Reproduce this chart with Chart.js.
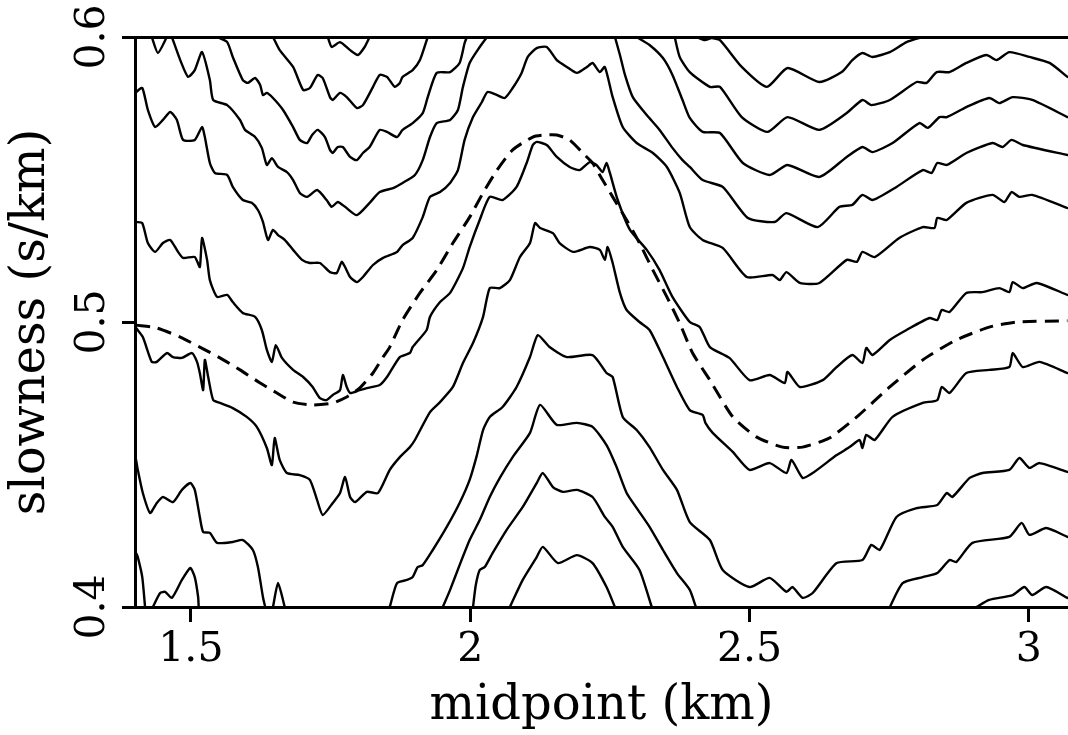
<!DOCTYPE html>
<html>
<head>
<meta charset="utf-8">
<title>slowness vs midpoint</title>
<script src="https://cdn.jsdelivr.net/npm/chart.js@4.4.1/dist/chart.umd.min.js"></script>
<style>
  html, body { margin: 0; padding: 0; background: #fff; }
  #chart { display: block; }
</style>
</head>
<body>
<canvas id="chart" width="1068" height="735"></canvas>
<script>
// Contour picks, [midpoint km, slowness s/km]

const xTicks = [1.5, 2, 2.5, 3];
const yTicks = [0.4, 0.5, 0.6];

// short dip at the top left
const topDip = [[1.430,0.6000],[1.441,0.5944],[1.457,0.6000]];

const upper1 = [[1.745,0.6000],[1.752,0.5965],[1.767,0.5982],[1.785,0.5954],[1.799,0.5937],[1.811,0.5965],[1.820,0.6000]];

const upper2 = [[1.647,0.6000],[1.659,0.5954],[1.683,0.5895],[1.701,0.5814],[1.713,0.5821],[1.727,0.5867],[1.736,0.5856],
  [1.749,0.5789],[1.754,0.5779],[1.767,0.5804],[1.779,0.5789],[1.797,0.5751],[1.808,0.5761],[1.826,0.5825],[1.838,0.5867],
  [1.851,0.5860],[1.865,0.5825],[1.874,0.5839],[1.879,0.5860],[1.897,0.5884],[1.910,0.5919],[1.924,0.6000]];

const upper3 = [[1.547,0.6000],[1.565,0.5982],[1.575,0.5930],[1.593,0.5849],[1.602,0.5839],[1.615,0.5856],[1.624,0.5832],
  [1.629,0.5796],[1.636,0.5804],[1.647,0.5786],[1.665,0.5744],[1.683,0.5684],[1.695,0.5639],[1.708,0.5628],[1.717,0.5656],
  [1.727,0.5674],[1.740,0.5649],[1.749,0.5604],[1.754,0.5593],[1.763,0.5614],[1.772,0.5614],[1.785,0.5579],[1.797,0.5568],
  [1.808,0.5593],[1.820,0.5614],[1.838,0.5674],[1.851,0.5667],[1.869,0.5649],[1.879,0.5674],[1.897,0.5698],[1.915,0.5733],
  [1.924,0.5789],[1.940,0.5874],[1.964,0.5877],[1.981,0.5909],[1.990,0.5979],[1.994,0.6000]];

const upper4 = [[1.466,0.6000],[1.481,0.5919],[1.495,0.5860],[1.507,0.5884],[1.520,0.5947],[1.534,0.5849],[1.540,0.5779],
  [1.565,0.5761],[1.588,0.5709],[1.597,0.5674],[1.615,0.5649],[1.627,0.5611],[1.636,0.5551],[1.645,0.5575],[1.656,0.5544],
  [1.672,0.5526],[1.683,0.5498],[1.695,0.5453],[1.708,0.5439],[1.726,0.5463],[1.743,0.5428],[1.752,0.5404],[1.763,0.5421],
  [1.776,0.5404],[1.797,0.5375],[1.820,0.5418],[1.838,0.5456],[1.862,0.5470],[1.879,0.5488],[1.901,0.5516],[1.915,0.5568],
  [1.928,0.5649],[1.940,0.5698],[1.964,0.5709],[1.978,0.5744],[1.987,0.5825],[1.999,0.5909],[2.017,0.5965],[2.030,0.6000]];

// long contour: left edge 0.58, over the top peak, out at the right edge
const across1 = [[1.402,0.5807],[1.413,0.5821],[1.423,0.5744],[1.436,0.5684],[1.450,0.5709],[1.463,0.5737],[1.475,0.5709],
  [1.486,0.5639],[1.507,0.5639],[1.520,0.5684],[1.525,0.5649],[1.534,0.5558],[1.543,0.5523],[1.565,0.5516],[1.575,0.5474],
  [1.593,0.5428],[1.609,0.5418],[1.620,0.5393],[1.629,0.5351],[1.638,0.5288],[1.647,0.5323],[1.656,0.5305],[1.668,0.5288],
  [1.683,0.5253],[1.699,0.5218],[1.713,0.5207],[1.731,0.5207],[1.749,0.5175],[1.761,0.5172],[1.770,0.5211],[1.776,0.5193],
  [1.785,0.5158],[1.797,0.5140],[1.808,0.5158],[1.826,0.5200],[1.844,0.5225],[1.869,0.5246],[1.879,0.5270],[1.897,0.5295],
  [1.915,0.5368],[1.928,0.5439],[1.946,0.5456],[1.964,0.5488],[1.978,0.5533],[1.990,0.5639],[2.005,0.5719],[2.021,0.5772],
  [2.031,0.5807],[2.048,0.5796],[2.062,0.5786],[2.076,0.5821],[2.092,0.5874],[2.103,0.5930],[2.119,0.5961],[2.137,0.5965],
  [2.155,0.5919],[2.173,0.5895],[2.191,0.5874],[2.209,0.5895],[2.219,0.5909],[2.232,0.5877],[2.241,0.5895],[2.255,0.5789],
  [2.273,0.5684],[2.298,0.5628],[2.327,0.5593],[2.352,0.5544],[2.375,0.5453],[2.393,0.5333],[2.416,0.5288],[2.452,0.5260],
  [2.495,0.5158],[2.541,0.5165],[2.554,0.5147],[2.566,0.5175],[2.590,0.5137],[2.625,0.5137],[2.674,0.5218],[2.692,0.5211],
  [2.702,0.5246],[2.724,0.5228],[2.768,0.5295],[2.810,0.5333],[2.831,0.5330],[2.836,0.5365],[2.853,0.5358],[2.888,0.5418],
  [2.935,0.5446],[2.956,0.5421],[2.969,0.5456],[2.983,0.5439],[3.006,0.5446],[3.069,0.5400]];

const across2 = [[1.402,0.5351],[1.413,0.5347],[1.423,0.5277],[1.436,0.5246],[1.450,0.5277],[1.463,0.5288],[1.477,0.5246],
  [1.486,0.5225],[1.507,0.5228],[1.516,0.5193],[1.520,0.5295],[1.529,0.5218],[1.534,0.5147],[1.547,0.5088],[1.565,0.5095],
  [1.575,0.5070],[1.593,0.5032],[1.615,0.5018],[1.627,0.4972],[1.636,0.4902],[1.645,0.4860],[1.652,0.4919],[1.663,0.4874],
  [1.683,0.4832],[1.701,0.4807],[1.718,0.4772],[1.731,0.4733],[1.743,0.4726],[1.754,0.4744],[1.767,0.4761],[1.772,0.4814],
  [1.779,0.4772],[1.785,0.4751],[1.802,0.4761],[1.815,0.4768],[1.838,0.4779],[1.851,0.4807],[1.874,0.4877],[1.892,0.4891],
  [1.897,0.4912],[1.922,0.4972],[1.928,0.5018],[1.946,0.5070],[1.964,0.5102],[1.987,0.5189],[1.999,0.5263],[2.017,0.5358],
  [2.035,0.5439],[2.058,0.5428],[2.083,0.5474],[2.101,0.5558],[2.112,0.5621],[2.119,0.5632],[2.137,0.5621],[2.155,0.5579],
  [2.178,0.5544],[2.196,0.5533],[2.214,0.5561],[2.226,0.5551],[2.237,0.5526],[2.244,0.5558],[2.250,0.5523],[2.264,0.5428],
  [2.286,0.5323],[2.316,0.5253],[2.339,0.5182],[2.362,0.5088],[2.393,0.5000],[2.411,0.4982],[2.429,0.4912],[2.464,0.4874],
  [2.500,0.4796],[2.536,0.4814],[2.563,0.4786],[2.568,0.4825],[2.590,0.4772],[2.631,0.4796],[2.656,0.4842],[2.684,0.4884],
  [2.702,0.4856],[2.709,0.4909],[2.720,0.4884],[2.751,0.4937],[2.781,0.4972],[2.822,0.5014],[2.836,0.5007],[2.844,0.5042],
  [2.858,0.5035],[2.888,0.5102],[2.917,0.5105],[2.947,0.5119],[2.965,0.5105],[2.971,0.5140],[2.989,0.5119],[3.014,0.5137],
  [3.069,0.5095]];

const across3 = [[1.402,0.4979],[1.414,0.4947],[1.430,0.4860],[1.439,0.4860],[1.457,0.4891],[1.468,0.4877],[1.484,0.4874],
  [1.502,0.4891],[1.511,0.4860],[1.516,0.4821],[1.522,0.4761],[1.525,0.4867],[1.531,0.4807],[1.540,0.4726],[1.552,0.4716],
  [1.575,0.4698],[1.600,0.4667],[1.618,0.4632],[1.636,0.4558],[1.645,0.4498],[1.650,0.4593],[1.659,0.4516],[1.672,0.4470],
  [1.695,0.4463],[1.713,0.4446],[1.726,0.4375],[1.736,0.4323],[1.754,0.4365],[1.767,0.4400],[1.776,0.4456],[1.785,0.4386],
  [1.794,0.4368],[1.815,0.4404],[1.835,0.4400],[1.856,0.4481],[1.874,0.4526],[1.892,0.4561],[1.901,0.4586],[1.928,0.4684],
  [1.946,0.4719],[1.969,0.4772],[1.987,0.4856],[2.005,0.4926],[2.023,0.5018],[2.035,0.5119],[2.053,0.5119],[2.071,0.5147],
  [2.089,0.5228],[2.107,0.5277],[2.116,0.5347],[2.125,0.5330],[2.148,0.5312],[2.160,0.5277],[2.184,0.5246],[2.214,0.5263],
  [2.232,0.5253],[2.241,0.5218],[2.246,0.5263],[2.255,0.5207],[2.268,0.5102],[2.280,0.5042],[2.303,0.5000],[2.321,0.4972],
  [2.345,0.4877],[2.370,0.4772],[2.393,0.4691],[2.416,0.4674],[2.421,0.4646],[2.434,0.4611],[2.470,0.4544],[2.500,0.4481],
  [2.536,0.4505],[2.566,0.4470],[2.575,0.4516],[2.595,0.4453],[2.613,0.4470],[2.656,0.4533],[2.679,0.4561],[2.697,0.4586],
  [2.702,0.4558],[2.709,0.4604],[2.724,0.4586],[2.756,0.4667],[2.810,0.4716],[2.836,0.4726],[2.844,0.4772],[2.858,0.4751],
  [2.888,0.4821],[2.929,0.4832],[2.965,0.4842],[2.971,0.4891],[2.989,0.4842],[3.019,0.4860],[3.069,0.4821]];

const across4 = [[1.856,0.4000],[1.869,0.4084],[1.887,0.4095],[1.897,0.4105],[1.906,0.4140],[1.915,0.4147],[1.933,0.4200],
  [1.958,0.4281],[1.981,0.4365],[1.999,0.4446],[2.012,0.4533],[2.023,0.4621],[2.035,0.4667],[2.058,0.4702],[2.083,0.4772],
  [2.107,0.4877],[2.121,0.4954],[2.142,0.4912],[2.173,0.4877],[2.219,0.4884],[2.244,0.4821],[2.255,0.4807],[2.273,0.4667],
  [2.298,0.4621],[2.321,0.4561],[2.345,0.4481],[2.370,0.4411],[2.393,0.4298],[2.429,0.4235],[2.452,0.4130],[2.500,0.4070],
  [2.536,0.4102],[2.566,0.4053],[2.577,0.4070],[2.595,0.4032],[2.613,0.4049],[2.656,0.4154],[2.702,0.4165],[2.718,0.4218],
  [2.733,0.4200],[2.763,0.4316],[2.799,0.4347],[2.836,0.4358],[2.853,0.4400],[2.863,0.4386],[2.894,0.4453],[2.917,0.4470],
  [2.965,0.4481],[2.983,0.4523],[3.001,0.4488],[3.019,0.4505],[3.069,0.4474]];

// nested peaks under the central high
const peak3 = [[1.951,0.4000],[1.964,0.4060],[1.981,0.4147],[1.999,0.4235],[2.017,0.4305],[2.035,0.4386],[2.053,0.4453],
  [2.076,0.4526],[2.107,0.4611],[2.125,0.4709],[2.155,0.4639],[2.191,0.4646],[2.219,0.4632],[2.244,0.4568],[2.262,0.4491],
  [2.280,0.4400],[2.298,0.4347],[2.321,0.4281],[2.345,0.4200],[2.370,0.4119],[2.393,0.4060],[2.404,0.4000]];

const peak4 = [[2.005,0.4000],[2.010,0.4077],[2.017,0.4130],[2.026,0.4140],[2.040,0.4189],[2.065,0.4270],[2.094,0.4351],
  [2.119,0.4435],[2.130,0.4470],[2.148,0.4421],[2.166,0.4404],[2.191,0.4411],[2.219,0.4386],[2.241,0.4316],[2.255,0.4281],
  [2.273,0.4211],[2.303,0.4130],[2.325,0.4000]];

const peak5 = [[2.071,0.4000],[2.094,0.4095],[2.119,0.4175],[2.130,0.4211],[2.157,0.4154],[2.191,0.4182],[2.219,0.4154],
  [2.244,0.4070],[2.259,0.4000]];

// bottom left
const lowLeft1 = [[1.402,0.4516],[1.405,0.4481],[1.414,0.4400],[1.427,0.4330],[1.439,0.4365],[1.450,0.4386],[1.468,0.4368],
  [1.484,0.4411],[1.499,0.4435],[1.507,0.4411],[1.516,0.4316],[1.522,0.4263],[1.534,0.4260],[1.547,0.4225],[1.575,0.4228],
  [1.593,0.4235],[1.611,0.4200],[1.620,0.4140],[1.629,0.4035],[1.633,0.4000]];
const lowLeft2 = [[1.402,0.4189],[1.405,0.4175],[1.413,0.4105],[1.418,0.4000]];
const lowLeft3 = [[1.432,0.4000],[1.445,0.4049],[1.454,0.4053],[1.466,0.4032],[1.484,0.4095],[1.499,0.4137],[1.507,0.4105],
  [1.513,0.4035],[1.514,0.4000]];
const lowLeft4 = [[1.647,0.4000],[1.656,0.4084],[1.668,0.4000]];

// bottom right
const lowRight1 = [[2.751,0.4000],[2.774,0.4084],[2.810,0.4105],[2.836,0.4119],[2.858,0.4165],[2.870,0.4158],[2.899,0.4225],
  [2.965,0.4246],[2.987,0.4295],[3.001,0.4253],[3.031,0.4277],[3.069,0.4246]];
const lowRight2 = [[2.906,0.4000],[2.929,0.4025],[2.971,0.4042],[2.992,0.4070],[3.006,0.4042],[3.031,0.4070],[3.069,0.4032]];

// upper right
const right1 = [[2.405,0.6000],[2.420,0.5989],[2.432,0.5996],[2.447,0.5989],[2.486,0.5895],[2.531,0.5825],[2.568,0.5891],
  [2.625,0.5842],[2.665,0.5877],[2.684,0.5919],[2.702,0.5944],[2.720,0.5930],[2.751,0.5947],[2.781,0.5982],[2.810,0.6000]];

const right2 = [[2.366,0.6000],[2.375,0.5930],[2.393,0.5877],[2.429,0.5825],[2.447,0.5825],[2.486,0.5719],[2.532,0.5667],
  [2.568,0.5719],[2.625,0.5674],[2.674,0.5733],[2.702,0.5779],[2.718,0.5761],[2.751,0.5779],[2.799,0.5842],[2.817,0.5839],
  [2.835,0.5877],[2.858,0.5877],[2.888,0.5909],[2.924,0.5937],[2.942,0.5919],[2.965,0.5947],[3.001,0.5930],[3.037,0.5909],
  [3.069,0.5860]];

const right3 = [[2.298,0.6000],[2.321,0.5972],[2.345,0.5926],[2.362,0.5867],[2.380,0.5779],[2.393,0.5716],[2.416,0.5667],
  [2.447,0.5663],[2.488,0.5558],[2.536,0.5516],[2.568,0.5551],[2.625,0.5509],[2.674,0.5579],[2.702,0.5614],[2.720,0.5596],
  [2.756,0.5628],[2.804,0.5698],[2.819,0.5681],[2.840,0.5719],[2.853,0.5719],[2.888,0.5754],[2.929,0.5786],[2.947,0.5768],
  [2.971,0.5789],[3.006,0.5779],[3.069,0.5719]];

const right4 = [[2.259,0.6000],[2.268,0.5937],[2.277,0.5867],[2.291,0.5789],[2.316,0.5726],[2.339,0.5674],[2.362,0.5611],
  [2.380,0.5568],[2.393,0.5544],[2.416,0.5498],[2.452,0.5474],[2.497,0.5365],[2.545,0.5351],[2.566,0.5382],[2.622,0.5333],
  [2.661,0.5404],[2.684,0.5411],[2.702,0.5446],[2.720,0.5428],[2.763,0.5474],[2.810,0.5533],[2.826,0.5523],[2.836,0.5558],
  [2.853,0.5551],[2.888,0.5593],[2.935,0.5628],[2.953,0.5614],[2.969,0.5639],[2.989,0.5621],[3.069,0.5586]];

// picked slowness curve (dashed)
const picked = [[1.402,0.4989],[1.439,0.4979],[1.481,0.4947],[1.516,0.4912],[1.552,0.4874],[1.588,0.4832],[1.624,0.4786],
  [1.654,0.4751],[1.683,0.4719],[1.718,0.4709],[1.754,0.4716],[1.779,0.4737],[1.802,0.4768],[1.826,0.4821],[1.844,0.4877],
  [1.856,0.4912],[1.879,0.5007],[1.910,0.5102],[1.940,0.5182],[1.969,0.5277],[1.999,0.5368],[2.023,0.5453],[2.048,0.5533],
  [2.076,0.5604],[2.112,0.5649],[2.133,0.5656],[2.155,0.5656],[2.178,0.5639],[2.205,0.5586],[2.219,0.5558],[2.237,0.5498],
  [2.255,0.5439],[2.280,0.5358],[2.303,0.5277],[2.327,0.5182],[2.352,0.5088],[2.375,0.4996],[2.398,0.4891],[2.429,0.4796],
  [2.470,0.4667],[2.513,0.4596],[2.559,0.4561],[2.595,0.4561],[2.643,0.4593],[2.692,0.4667],[2.751,0.4772],[2.810,0.4867],
  [2.870,0.4937],[2.929,0.4982],[2.978,0.5000],[3.069,0.5004]];

const solidLines = [topDip, upper1, upper2, upper3, upper4, across1, across2, across3, across4,
  peak3, peak4, peak5, lowLeft1, lowLeft2, lowLeft3, lowLeft4, lowRight1, lowRight2,
  right1, right2, right3, right4];

const FONT = "'DejaVu Serif', 'Liberation Serif', serif";

function toPoints(arr) {
    return arr.map(p => ({ x: p[0], y: p[1] }));
}

const datasets = solidLines.map(line => ({
    data: toPoints(line),
    borderColor: '#000',
    borderWidth: 2.4,
    borderJoinStyle: 'round',
    borderCapStyle: 'round',
    pointRadius: 0,
    showLine: true,
    tension: 0.2
}));

datasets.push({
    data: toPoints(picked),
    borderColor: '#000',
    borderWidth: 3,
    borderDash: [14, 8],
    pointRadius: 0,
    showLine: true,
    tension: 0.2
});

const whiteBg = {
    id: 'whiteBg',
    beforeDraw(chart) {
        const ctx = chart.ctx;
        ctx.save();
        ctx.fillStyle = '#fff';
        ctx.fillRect(0, 0, chart.width, chart.height);
        ctx.restore();
    }
};

new Chart(document.getElementById('chart'), {
    type: 'scatter',
    data: { datasets: datasets },
    plugins: [whiteBg],
    options: {
        responsive: false,
        animation: false,
        events: [],
        layout: { padding: { top: 37, left: 0, right: 0, bottom: 0 } },
        plugins: { legend: { display: false }, tooltip: { enabled: false } },
        scales: {
            x: {
                type: 'linear',
                position: 'bottom',
                min: 1.4,
                max: 3.07,
                afterBuildTicks: scale => { scale.ticks = xTicks.map(v => ({ value: v })); },
                afterFit: scale => { scale.height = 128; },
                ticks: {
                    color: '#000',
                    font: { family: FONT, size: 41 },
                    padding: 4,
                    maxRotation: 0,
                    callback: v => String(v)
                },
                grid: { drawOnChartArea: false, drawTicks: true, tickLength: 15, tickWidth: 3, tickColor: '#000' },
                border: { display: true, color: '#000', width: 3 },
                title: {
                    display: true,
                    text: 'midpoint (km)',
                    color: '#000',
                    font: { family: FONT, size: 48 },
                    padding: { top: 0, bottom: 0 }
                }
            },
            xTop: {
                type: 'linear',
                position: 'top',
                min: 1.4,
                max: 3.07,
                afterFit: scale => { scale.height = 0; },
                ticks: { display: false },
                grid: { drawOnChartArea: false, drawTicks: false },
                border: { display: true, color: '#000', width: 3 }
            },
            y: {
                type: 'linear',
                position: 'left',
                min: 0.4,
                max: 0.6,
                afterBuildTicks: scale => { scale.ticks = yTicks.map(v => ({ value: v })); },
                afterFit: scale => { scale.width = 135; },
                ticks: {
                    color: '#000',
                    font: { family: FONT, size: 41 },
                    minRotation: 90,
                    maxRotation: 90,
                    crossAlign: 'center',
                    padding: -4,
                    callback: v => String(v)
                },
                grid: { drawOnChartArea: false, drawTicks: true, tickLength: 13, tickWidth: 3, tickColor: '#000' },
                border: { display: true, color: '#000', width: 3 },
                title: {
                    display: true,
                    text: 'slowness (s/km)',
                    color: '#000',
                    font: { family: FONT, size: 48 },
                    padding: { top: 3, bottom: 0 }
                }
            }
        }
    }
});
</script>
</body>
</html>
